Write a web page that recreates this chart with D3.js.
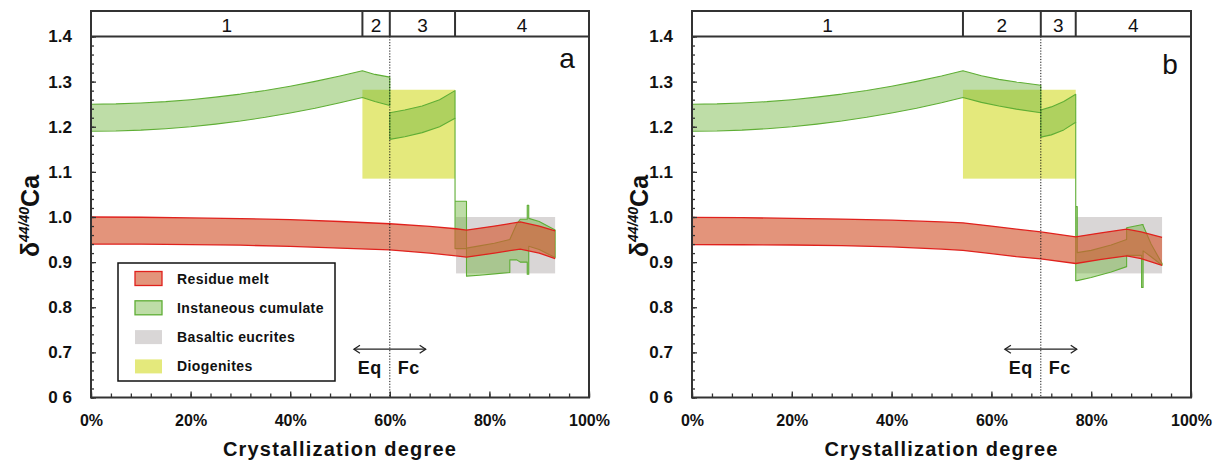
<!DOCTYPE html>
<html>
<head>
<meta charset="utf-8">
<script src="https://cdn.jsdelivr.net/npm/d3@7/dist/d3.min.js"></script>
<style>
	body { margin: 0; background: #fff; }
	svg text { font-family: "Liberation Sans", Arial, sans-serif; fill: #111; }
</style>
</head>
<body>
<svg id="chart" width="1220" height="462"></svg>
<script>
// ---- data ----
const yTickVals		= [0.6, 0.7, 0.8, 0.9, 1.0, 1.1, 1.2, 1.3, 1.4];
const yTickLabels	= ['0 6', '0.7', '0.8', '0.9', '1.0', '1.1', '1.2', '1.3', '1.4'];
const xTickVals		= [0, 0.2, 0.4, 0.6, 0.8, 1.0];
const xTickLabels	= ['0%', '20%', '40%', '60%', '80%', '100%'];
const stageLabels	= ['1', '2', '3', '4'];

const stageEdgesA	= [0, 0.545, 0.600, 0.731, 1];
const stageEdgesB	= [0, 0.543, 0.699, 0.769, 1];

// [x0, x1, y0, y1]
const diogenitesA	= [0.545, 0.731, 1.085, 1.282];
const diogenitesB	= [0.543, 0.769, 1.085, 1.282];
const eucritesA		= [0.733, 0.932, 0.875, 1.000];
const eucritesB		= [0.770, 0.942, 0.875, 1.000];

// residue melt band: [F, low, high]
const meltA = [[0,0.940,1.000],[0.1,0.9397,0.9995],[0.2,0.939,0.998],[0.3,0.9375,0.9965],[0.4,0.935,0.994],[0.5,0.931,0.990],[0.6,0.927,0.985],[0.68,0.920,0.979],[0.733,0.914,0.974],[0.754,0.911,0.971],[0.81,0.920,0.980],[0.862,0.929,0.989],[0.90,0.920,0.980],[0.932,0.908,0.969]];
const meltB = [[0,0.939,0.999],[0.1,0.9385,0.9985],[0.2,0.938,0.997],[0.3,0.9365,0.9955],[0.4,0.934,0.993],[0.5,0.929,0.989],[0.543,0.926,0.987],[0.6,0.919,0.980],[0.65,0.912,0.973],[0.699,0.907,0.967],[0.769,0.897,0.956],[0.82,0.906,0.965],[0.871,0.914,0.973],[0.90,0.908,0.967],[0.942,0.893,0.955]];

// instantaneous cumulate band, piecewise: [F, low, high]
const cumulateA = [
	[[0,1.190,1.250],[0.05,1.1906,1.2506],[0.1,1.1925,1.2525],[0.15,1.1957,1.2556],[0.2,1.2001,1.260],[0.25,1.2058,1.2656],[0.3,1.2127,1.2724],[0.35,1.2209,1.2805],[0.4,1.2304,1.2899],[0.45,1.2411,1.3005],[0.5,1.2531,1.3123],[0.545,1.265,1.324],[0.57,1.256,1.316],[0.6,1.247,1.310]],
	[[0.6,1.172,1.231],[0.63,1.178,1.237],[0.665,1.187,1.246],[0.70,1.200,1.260],[0.731,1.219,1.280]],
	[[0.731,0.930,1.219],[0.731,0.930,1.035],[0.754,0.930,1.035],[0.754,0.869,0.931],[0.78,0.871,0.936],[0.81,0.874,0.942],[0.841,0.877,0.950],[0.841,0.905,0.950],[0.855,0.905,0.985],[0.862,0.900,0.995],[0.876,0.900,0.995],[0.876,0.873,1.026],[0.879,0.873,1.026],[0.879,0.935,0.997],[0.90,0.928,0.990],[0.932,0.910,0.971]]
];
const cumulateB = [
	[[0,1.190,1.250],[0.05,1.1906,1.2506],[0.1,1.1925,1.2525],[0.15,1.1957,1.2556],[0.2,1.2001,1.260],[0.25,1.2058,1.2656],[0.3,1.2127,1.2724],[0.35,1.2209,1.2805],[0.4,1.2304,1.2899],[0.45,1.2411,1.3005],[0.5,1.2531,1.3123],[0.543,1.265,1.324],[0.58,1.254,1.313],[0.615,1.246,1.305],[0.65,1.239,1.299],[0.699,1.231,1.292]],
	[[0.699,1.177,1.237],[0.72,1.182,1.244],[0.745,1.193,1.256],[0.769,1.210,1.272]],
	[[0.769,0.859,1.210],[0.769,0.859,1.023],[0.772,0.859,1.023],[0.772,0.859,0.921],[0.80,0.866,0.926],[0.84,0.878,0.938],[0.871,0.890,0.950],[0.871,0.915,0.976],[0.901,0.915,0.983],[0.901,0.844,0.983],[0.904,0.844,0.983],[0.904,0.925,0.981],[0.92,0.912,0.940],[0.942,0.893,0.897]]
];

const legendItems	= ['Residue melt', 'Instaneous cumulate', 'Basaltic eucrites', 'Diogenites'];

// ---- styles ----
const C = {
	axis: '#333',
	red: '#e0211d', redFill: '#d45a34',
	green: '#5fae35', greenFill: '#6fb33b',
	gray: '#d9d6d6', yellow: '#e4e97c'
};

const svg = d3.select('#chart');
svg.append('rect').attr('width', 1220).attr('height', 462).attr('fill', '#fff');

const TOP = 11, PLOT_TOP = 36.5, PLOT_BOTTOM = 397.5;

function drawPanel(cfg) {
	let x	= d3.scaleLinear().domain([0, 1]).range([cfg.left, cfg.right]);
	let y	= d3.scaleLinear().domain([0.6, 1.4]).range([PLOT_BOTTOM, PLOT_TOP]);
	let g	= svg.append('g');

	let area = d3.area().x((d) => x(d[0])).y0((d) => y(d[1])).y1((d) => y(d[2]));
	let line = (k) => d3.line().x((d) => x(d[0])).y((d) => y(d[k]));

	// reference fields
	[[cfg.eucrites, C.gray], [cfg.diogenites, C.yellow]].forEach(([r, col]) => {
		g.append('rect').attr('x', x(r[0])).attr('width', x(r[1]) - x(r[0]))
			.attr('y', y(r[3])).attr('height', y(r[2]) - y(r[3])).attr('fill', col);
	});

	// cumulate
	cfg.cumulate.forEach((seg) => {
		g.append('path').datum(seg).attr('d', (d) => area(d) + 'Z')
			.attr('fill', C.greenFill).attr('fill-opacity', 0.45)
			.attr('stroke', C.green).attr('stroke-width', 1.1).attr('stroke-linejoin', 'round');
	});

	// residue melt
	g.append('path').datum(cfg.melt).attr('d', area).attr('fill', C.redFill).attr('fill-opacity', 0.65);
	[1, 2].forEach((k) => g.append('path').datum(cfg.melt).attr('d', line(k)).attr('fill', 'none').attr('stroke', C.red).attr('stroke-width', 1.3));

	// Eq / Fc divider
	g.append('line').attr('x1', x(cfg.transition)).attr('x2', x(cfg.transition)).attr('y1', PLOT_TOP).attr('y2', PLOT_BOTTOM)
		.attr('stroke', '#111').attr('stroke-width', 1).attr('stroke-dasharray', '1.2,1.6');

	let ay = y(0.707);
	let a0 = x(cfg.transition - 0.072), a1 = x(cfg.transition + 0.072);
	g.append('line').attr('x1', a0).attr('x2', a1).attr('y1', ay).attr('y2', ay).attr('stroke', '#222').attr('stroke-width', 1.3);
	g.append('path').attr('d', `M${a0 + 6},${ay - 4}L${a0},${ay}L${a0 + 6},${ay + 4}M${a1 - 6},${ay - 4}L${a1},${ay}L${a1 - 6},${ay + 4}`)
		.attr('fill', 'none').attr('stroke', '#222').attr('stroke-width', 1.3);
	g.append('text').attr('x', x(cfg.transition) - 8).attr('y', ay + 25).attr('text-anchor', 'end')
		.attr('font-size', 18).attr('font-weight', 'bold').attr('letter-spacing', 0.5).text('Eq');
	g.append('text').attr('x', x(cfg.transition) + 8).attr('y', ay + 25)
		.attr('font-size', 18).attr('font-weight', 'bold').attr('letter-spacing', 0.5).text('Fc');

	// axes
	let minorY = d3.range(0.6, 1.4001, 0.02).map((v) => +v.toFixed(2));
	g.append('g').attr('transform', `translate(${cfg.left},0)`)
		.call(d3.axisLeft(y).tickValues(minorY).tickSize(-3).tickFormat(''))
		.call((s) => { s.select('.domain').remove(); s.selectAll('line').attr('stroke', C.axis).attr('stroke-width', 1.3); });
	g.append('g').attr('transform', `translate(${cfg.left},0)`)
		.call(d3.axisLeft(y).tickValues(yTickVals).tickSize(-5).tickPadding(19).tickFormat((d, i) => yTickLabels[i]))
		.call((s) => {
			s.select('.domain').remove();
			s.selectAll('line').attr('stroke', C.axis).attr('stroke-width', 1.3);
			s.selectAll('text').attr('font-size', 17).attr('font-weight', 'bold').attr('font-family', '"Liberation Sans", Arial, sans-serif').attr('fill', '#111');
		});

	let minorX = d3.range(0, 1.0001, 0.04).map((v) => +v.toFixed(2));
	g.append('g').attr('transform', `translate(0,${PLOT_BOTTOM})`)
		.call(d3.axisBottom(x).tickValues(minorX).tickSize(-4).tickFormat(''))
		.call((s) => { s.select('.domain').remove(); s.selectAll('line').attr('stroke', C.axis).attr('stroke-width', 1.3); });
	g.append('g').attr('transform', `translate(0,${PLOT_BOTTOM})`)
		.call(d3.axisBottom(x).tickValues(xTickVals).tickSize(-6).tickPadding(17).tickFormat((d, i) => xTickLabels[i]))
		.call((s) => {
			s.select('.domain').remove();
			s.selectAll('line').attr('stroke', C.axis).attr('stroke-width', 1.3);
			s.selectAll('text').attr('font-size', 16).attr('font-weight', 'bold').attr('font-family', '"Liberation Sans", Arial, sans-serif').attr('fill', '#111');
		});

	// frame + stage header
	g.append('rect').attr('x', cfg.left).attr('y', TOP).attr('width', cfg.right - cfg.left).attr('height', PLOT_BOTTOM - TOP)
		.attr('fill', 'none').attr('stroke', C.axis).attr('stroke-width', 2);
	g.append('line').attr('x1', cfg.left).attr('x2', cfg.right).attr('y1', PLOT_TOP).attr('y2', PLOT_TOP).attr('stroke', C.axis).attr('stroke-width', 2);
	cfg.stages.slice(1, -1).forEach((s) => {
		g.append('line').attr('x1', x(s)).attr('x2', x(s)).attr('y1', TOP).attr('y2', PLOT_TOP).attr('stroke', C.axis).attr('stroke-width', 2);
	});
	stageLabels.forEach((lab, i) => {
		g.append('text').attr('x', x((cfg.stages[i] + cfg.stages[i + 1]) / 2)).attr('y', 31.5)
			.attr('text-anchor', 'middle').attr('font-size', 19).text(lab);
	});

	g.append('text').attr('x', cfg.tagX).attr('y', cfg.tagY).attr('text-anchor', 'middle').attr('font-size', 28).text(cfg.tag);

	// titles
	g.append('text').attr('x', (cfg.left + cfg.right) / 2).attr('y', 456).attr('text-anchor', 'middle')
		.attr('font-size', 20).attr('font-weight', 'bold').attr('letter-spacing', 1.2).text('Crystallization degree');

	let yt = g.append('text').attr('transform', `translate(${cfg.titleX},216) rotate(-90)`).attr('text-anchor', 'middle')
		.attr('font-size', 25).attr('font-weight', 'bold');
	yt.append('tspan').text('δ');
	yt.append('tspan').attr('font-size', 14).attr('font-style', 'italic').attr('dy', -10).text('44/40');
	yt.append('tspan').attr('dy', 10).text('Ca');

	return { x, y, g };
}

drawPanel({ left: 91, right: 589, stages: stageEdgesA, transition: 0.600, melt: meltA, cumulate: cumulateA,
	diogenites: diogenitesA, eucrites: eucritesA, tag: 'a', tagX: 567, tagY: 68, titleX: 39 });
drawPanel({ left: 692, right: 1191, stages: stageEdgesB, transition: 0.699, melt: meltB, cumulate: cumulateB,
	diogenites: diogenitesB, eucrites: eucritesB, tag: 'b', tagX: 1170, tagY: 74, titleX: 648 });

// legend (panel a)
let legend = svg.append('g').attr('transform', 'translate(118,263)');
legend.append('rect').attr('width', 217).attr('height', 118).attr('fill', '#fff').attr('stroke', '#111').attr('stroke-width', 1.5);
legendItems.forEach((lab, i) => {
	let cy = 15.5 + i * 29.3;
	let sw = legend.append('rect').attr('x', 17).attr('y', cy - 7).attr('width', 27).attr('height', 14);
	if (i === 0) sw.attr('fill', C.redFill).attr('fill-opacity', 0.65).attr('stroke', C.red).attr('stroke-width', 1.3);
	if (i === 1) sw.attr('fill', C.greenFill).attr('fill-opacity', 0.45).attr('stroke', C.green).attr('stroke-width', 1.3);
	if (i === 2) sw.attr('fill', C.gray);
	if (i === 3) sw.attr('fill', C.yellow);
	legend.append('text').attr('x', 59).attr('y', cy + 5).attr('font-size', 14).attr('font-weight', 'bold')
		.attr('letter-spacing', 0.4).text(lab);
});
</script>
</body>
</html>
